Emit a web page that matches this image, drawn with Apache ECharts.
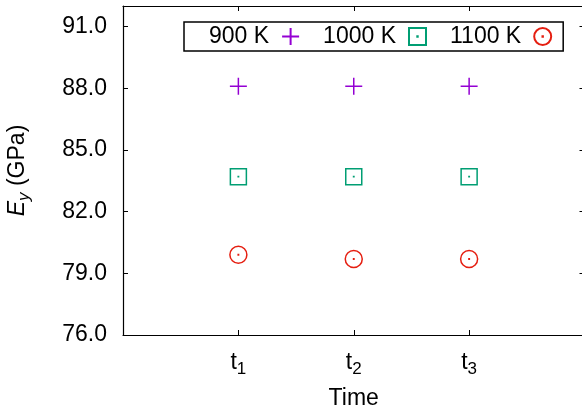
<!DOCTYPE html>
<html>
<head>
<meta charset="utf-8">
<script src="https://cdn.jsdelivr.net/npm/echarts@6/dist/echarts.min.js"></script>
<style>
html,body{margin:0;padding:0;background:#fff;}
#chart{width:582px;height:414px;}
</style>
</head>
<body>
<div id="chart"></div>
<script>
// ---- data ----
var categories = ['t1', 't2', 't3'];
var xPositions = [1, 2, 3];
var seriesNames = ['900 K', '1000 K', '1100 K'];
var values900 = [88.1, 88.1, 88.1];
var values1000 = [83.7, 83.7, 83.7];
var values1100 = [79.9, 79.7, 79.7];
var yTickValues = [76, 79, 82, 85, 88, 91];
var xTitle = 'Time';
var yTitle = '{e|E}{sub|y}{n| (GPa)}';

var FONT = 'Liberation Sans';
var colors = ['#9400d3', '#009e73', '#e51e10'];
var symbols = [
  'path://M0,8L16,8M8,0L8,16',
  'path://M0,0L16,0L16,16L0,16ZM7.8,7.8L8.2,7.8L8.2,8.2L7.8,8.2Z',
  'path://M16,8A8,8,0,1,1,0,8A8,8,0,1,1,16,8ZM7.8,7.8L8.2,7.8L8.2,8.2L7.8,8.2Z'
];
var symbolSizes = [17, 16, 17];
var allValues = [values900, values1000, values1100];

function toPairs(vals) {
  return vals.map(function (v, i) { return [xPositions[i], v]; });
}

var chart = echarts.init(document.getElementById('chart'), null, {renderer: 'canvas'});

var axisLineStyle = {color: '#000', width: 1.2};

var option = {
  animation: false,
  backgroundColor: '#fff',
  textStyle: {fontFamily: FONT, color: '#000'},
  grid: {left: 123, right: -2.5, top: 6, bottom: 79, containLabel: false, outerBoundsMode: 'none'},
  legend: {
    left: 184, top: 22,
    orient: 'horizontal',
    align: 'right',
    itemWidth: 17, itemHeight: 17,
    itemGap: 23,
    padding: [3, 11, 3, 25],
    borderColor: '#000', borderWidth: 1.5,
    backgroundColor: '#fff',
    selectedMode: false,
    textStyle: {fontFamily: FONT, fontSize: 23, color: '#000', lineHeight: 19, padding: [0, 8, 0, 0]},
    data: seriesNames
  },
  xAxis: [{
    type: 'value', min: 0, max: 4, position: 'bottom',
    name: xTitle, nameLocation: 'middle', nameGap: 52,
    nameTextStyle: {fontFamily: FONT, fontSize: 23, color: '#000'},
    axisLine: {show: true, onZero: false, lineStyle: axisLineStyle},
    axisTick: {show: true, inside: true, length: 5, customValues: xPositions, lineStyle: {color: '#000'}},
    splitLine: {show: false},
    axisLabel: {
      customValues: xPositions, margin: 12,
      formatter: function (v) {
        var idx = xPositions.indexOf(v);
        var c = categories[idx] || '';
        return c.charAt(0) + '{sub|' + c.slice(1) + '}';
      },
      fontFamily: FONT, fontSize: 23, color: '#000',
      rich: {sub: {fontFamily: FONT, fontSize: 17, color: '#000', padding: [14, 0, 0, 0]}}
    }
  }, {
    type: 'value', min: 0, max: 4, position: 'top',
    axisLine: {show: true, onZero: false, lineStyle: axisLineStyle},
    axisTick: {show: true, inside: true, length: 5, customValues: xPositions, lineStyle: {color: '#000'}},
    axisLabel: {show: false},
    splitLine: {show: false}
  }],
  yAxis: [{
    type: 'value', min: 76, max: 92, position: 'left',
    name: yTitle, nameLocation: 'middle', nameGap: 90, nameRotate: 90,
    nameTextStyle: {
      fontFamily: FONT, fontSize: 23, color: '#000',
      rich: {
        e: {fontFamily: FONT, fontSize: 23, fontStyle: 'italic', color: '#000'},
        sub: {fontFamily: FONT, fontSize: 17, fontStyle: 'italic', color: '#000', padding: [14, 0, 0, 0]},
        n: {fontFamily: FONT, fontSize: 23, color: '#000'}
      }
    },
    axisLine: {show: true, onZero: false, lineStyle: axisLineStyle},
    axisTick: {show: true, inside: true, length: 5, customValues: yTickValues, lineStyle: {color: '#000'}},
    splitLine: {show: false},
    axisLabel: {
      customValues: yTickValues, margin: 16,
      formatter: function (v) { return v.toFixed(1); },
      fontFamily: FONT, fontSize: 23, color: '#000'
    }
  }, {
    type: 'value', min: 76, max: 92, position: 'right',
    axisLine: {show: true, onZero: false, lineStyle: axisLineStyle},
    axisTick: {show: true, inside: true, length: 5, customValues: yTickValues, lineStyle: {color: '#000'}},
    axisLabel: {show: false},
    splitLine: {show: false}
  }],
  series: seriesNames.map(function (name, i) {
    return {
      name: name,
      type: 'scatter',
      xAxisIndex: 0, yAxisIndex: 0,
      symbol: symbols[i],
      symbolSize: symbolSizes[i],
      itemStyle: {color: 'transparent', borderColor: colors[i], borderWidth: 1.5, opacity: 1},
      emphasis: {disabled: true},
      data: toPairs(allValues[i])
    };
  })
};
chart.setOption(option);
</script>
</body>
</html>
